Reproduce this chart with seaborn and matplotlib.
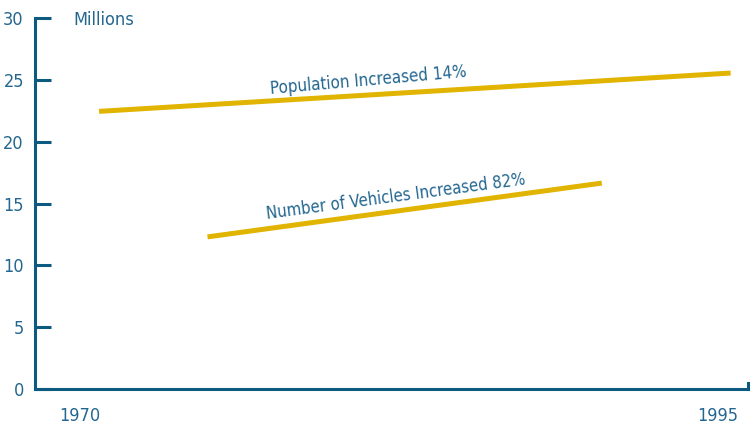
import matplotlib
matplotlib.use("Agg")
import matplotlib.pyplot as plt
import seaborn as sns
import pandas as pd

# Data (millions)
pop_years = [1970.75, 1995.5]
pop_values = [22.45, 25.55]
veh_years = [1975.0, 1990.45]
veh_values = [12.3, 16.65]
y_ticks = [0, 5, 10, 15, 20, 25, 30]
x_ticks = [1970, 1995]
x_tick_labels = ["1970", "1995"]

AXIS = "#0c5a80"
TEXT = "#23668f"
GOLD = "#e0b400"

sns.set_theme(style="white")
plt.rcParams["font.family"] = ["DejaVu Sans"]
plt.rcParams["font.stretch"] = "condensed"

df = pd.DataFrame({
    "year": pop_years + veh_years,
    "value": pop_values + veh_values,
    "series": ["Population"] * 2 + ["Vehicles"] * 2,
})

fig = plt.figure(figsize=(7.51, 4.24), dpi=100)
ax = fig.add_axes([35 / 751, 1 - 389 / 424, (748 - 35) / 751, (389 - 18) / 424])

sns.lineplot(data=df, x="year", y="value", units="series", estimator=None,
             color=GOLD, linewidth=3.6, solid_capstyle="butt", ax=ax, legend=False)

ax.set_xlim(1968.24, 1996.18)
ax.set_ylim(0, 30)
ax.set_xlabel("")
ax.set_ylabel("")

ax.set_yticks(y_ticks)
ax.set_yticklabels([str(v) for v in y_ticks])
ax.set_xticks(x_ticks)
ax.set_xticklabels(x_tick_labels)

ax.tick_params(axis="y", direction="in", length=11.5, width=2.2, color=AXIS,
               pad=8, labelsize=13, labelcolor=TEXT, left=True)
ax.tick_params(axis="x", length=0, pad=13, labelsize=13, labelcolor=TEXT)

ax.spines["top"].set_visible(False)
for side in ["left", "bottom", "right"]:
    ax.spines[side].set_color(AXIS)
    ax.spines[side].set_linewidth(2.2)
ax.spines["right"].set_bounds(0, 0.5)

ax.text(1969.73, 29.85, "Millions", color=TEXT, fontsize=13, ha="left", va="center")
ax.text(1981.3, 24.98, "Population Increased 14%", color=TEXT, fontsize=12.2,
        ha="center", va="center", rotation=5, rotation_mode="anchor")
ax.text(1982.4, 15.52, "Number of Vehicles Increased 82%", color=TEXT, fontsize=12.0,
        ha="center", va="center", rotation=7.6, rotation_mode="anchor")

fig.savefig("out.png", dpi=100)
